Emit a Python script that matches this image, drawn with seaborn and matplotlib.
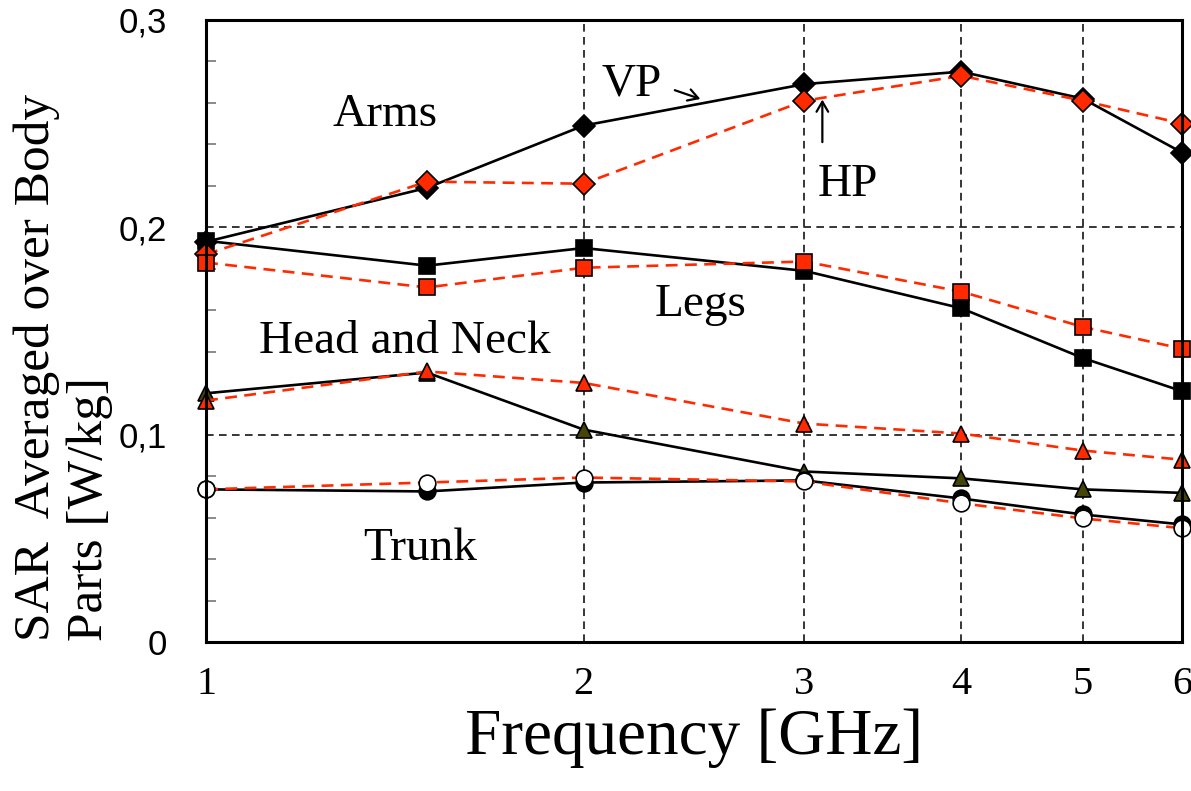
"""
SAR averaged over body parts vs frequency, VP (solid) vs HP (dashed).
"""

import matplotlib
matplotlib.use("Agg")
import matplotlib.pyplot as plt
import seaborn as sns
from matplotlib.ticker import FixedLocator, MultipleLocator, NullLocator, FuncFormatter

FREQ_GHZ = [1.0, 1.5, 2.0, 3.0, 4.0, 5.0, 6.0]

# VP = vertical polarisation (solid black), HP = horizontal (red dashed)
ARMS_VP = [0.193, 0.219, 0.249, 0.269, 0.275, 0.262, 0.236]
ARMS_HP = [0.187, 0.222, 0.221, 0.261, 0.273, 0.261, 0.250]
LEGS_VP = [0.1935, 0.1815, 0.190, 0.179, 0.161, 0.137, 0.121]
LEGS_HP = [0.183, 0.171, 0.1805, 0.1835, 0.169, 0.152, 0.1415]
HEAD_VP = [0.120, 0.130, 0.1025, 0.0823, 0.079, 0.0737, 0.072]
HEAD_HP = [0.1165, 0.1305, 0.125, 0.1054, 0.1006, 0.0924, 0.088]
TRUNK_VP = [0.0737, 0.0727, 0.077, 0.078, 0.0693, 0.0616, 0.0568]
TRUNK_HP = [0.0737, 0.077, 0.0794, 0.0775, 0.067, 0.0597, 0.055]

X_TICKS = [1, 2, 3, 4, 5, 6]
Y_TICKS = [0.0, 0.1, 0.2, 0.3]
Y_TICK_LABELS = ["0", "0,1", "0,2", "0,3"]

RED = "#ff2a00"
OLIVE = "#45450a"
SERIF = "Liberation Serif"

sns.set_theme(style="white")
plt.rcParams["font.family"] = [SERIF, "DejaVu Serif"]
for key in ("text.color", "axes.labelcolor", "xtick.color", "ytick.color"):
    plt.rcParams[key] = "black"

fig, ax = plt.subplots(figsize=(11.91, 7.91), dpi=100)
fig.subplots_adjust(left=0.173, right=0.9925, top=0.975, bottom=0.188)

solid = dict(color="black", linewidth=1.9, markeredgecolor="black",
             markeredgewidth=1.2, clip_on=False)
dashed = dict(color=RED, linewidth=1.9, linestyle=(0, (4.5, 2.8)),
              markeredgecolor="black", markeredgewidth=1.2, clip_on=False)

series = [
    (ARMS_VP, "D", "black", 11.5, solid),
    (LEGS_VP, "s", "black", 12, solid),
    (HEAD_VP, "^", OLIVE, 12, solid),
    (TRUNK_VP, "o", "black", 12, solid),
    (ARMS_HP, "D", RED, 11.5, dashed),
    (LEGS_HP, "s", RED, 12, dashed),
    (HEAD_HP, "^", RED, 12, dashed),
    (TRUNK_HP, "o", "white", 12, dashed),
]
for vals, mk, face, ms, style in series:
    sns.lineplot(x=FREQ_GHZ, y=vals, ax=ax, marker=mk, markersize=ms,
                 markerfacecolor=face, **style)

ax.set_xscale("log")
ax.set_xlim(1, 6)
ax.set_ylim(0, 0.3)
ax.xaxis.set_major_locator(FixedLocator(X_TICKS))
ax.xaxis.set_minor_locator(NullLocator())
ax.xaxis.set_major_formatter(FuncFormatter(lambda v, _: f"{v:g}"))
ax.yaxis.set_major_locator(FixedLocator(Y_TICKS))
ax.set_yticklabels(Y_TICK_LABELS, fontfamily="Liberation Sans", fontsize=25)
ax.yaxis.set_minor_locator(MultipleLocator(0.02))
ax.tick_params(axis="x", length=0, pad=17, labelsize=29)
ax.tick_params(axis="y", which="major", length=0, pad=28)
ax.tick_params(axis="y", which="minor", left=True, direction="in",
               length=7, width=1.2, color="#777777")

ax.grid(True, which="major", color="black", linestyle=(0, (5, 3.5)),
        linewidth=1.1)
for sp in ax.spines.values():
    sp.set_color("black")
    sp.set_linewidth(2.2)

ax.set_xlabel("Frequency [GHz]", fontsize=47, labelpad=4)
fig.text(0.053, 0.19, "SAR  Averaged over Body\nParts [W/kg]", rotation=90,
         ha="center", va="bottom", multialignment="left", fontsize=37,
         linespacing=1.2)

label_kw = dict(fontsize=34, ha="center", va="center")
ax.text(1.389, 0.254, "Arms", **label_kw)
ax.text(2.477, 0.1625, "Legs", **label_kw)
ax.text(1.441, 0.1447, "Head and Neck", **label_kw)
ax.text(1.482, 0.0453, "Trunk", **label_kw)
ax.text(2.186, 0.2687, "VP", **label_kw)
ax.text(3.25, 0.2204, "HP", **label_kw)

arrow = dict(arrowstyle="->,head_length=0.6,head_width=0.35",
             color="black", linewidth=1.6)
ax.annotate("", xy=(2.49, 0.2614), xytext=(2.353, 0.2665), arrowprops=arrow)
ax.annotate("", xy=(3.10, 0.2629), xytext=(3.10, 0.2397), arrowprops=arrow)

fig.savefig("out.png", dpi=100)
